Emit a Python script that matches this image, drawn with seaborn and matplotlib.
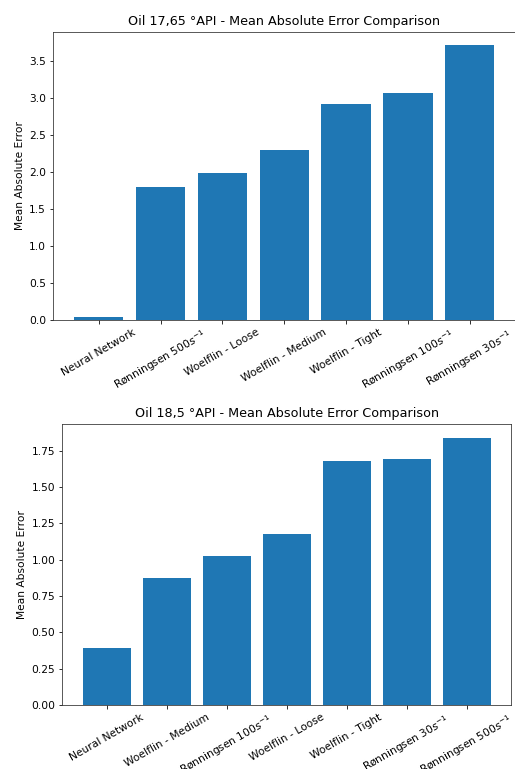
import matplotlib
matplotlib.use("Agg")
import matplotlib.pyplot as plt
import seaborn as sns
import pandas as pd

# Oil 17,65 °API
models_a = ["Neural Network", r"Rønningsen $500s^{-1}$", "Woelflin - Loose",
            "Woelflin - Medium", "Woelflin - Tight", r"Rønningsen $100s^{-1}$",
            r"Rønningsen $30s^{-1}$"]
mae_a = [0.04, 1.80, 1.99, 2.30, 2.93, 3.07, 3.72]

# Oil 18,5 °API
models_b = ["Neural Network", "Woelflin - Medium", r"Rønningsen $100s^{-1}$",
            "Woelflin - Loose", "Woelflin - Tight", r"Rønningsen $30s^{-1}$",
            r"Rønningsen $500s^{-1}$"]
mae_b = [0.39, 0.875, 1.025, 1.18, 1.68, 1.69, 1.84]

titles = ["Oil 17,65 °API - Mean Absolute Error Comparison",
          "Oil 18,5 °API - Mean Absolute Error Comparison"]

W, H = 515, 769
fig = plt.figure(figsize=(W / 72, H / 72), dpi=72)

# axes boxes in pixels: left, top, right, bottom
boxes = [(53, 31.5, 515.5, 320), (62.3, 424.3, 511, 705)]

for box, models, mae, title in zip(boxes, [models_a, models_b], [mae_a, mae_b], titles):
    l, t, r, b = box
    ax = fig.add_axes([l / W, 1 - b / H, (r - l) / W, (b - t) / H])
    df = pd.DataFrame({"Model": models, "MAE": mae})
    sns.barplot(data=df, x="Model", y="MAE", ax=ax, color="#1f77b4",
                saturation=1, width=0.8, errorbar=None)
    ax.set_title(title, fontsize=12.8, pad=7)
    ax.set_xlabel("")
    ax.set_ylabel("Mean Absolute Error", fontsize=10.6)
    ax.set_xlim(-0.74, len(models) - 0.26)
    ax.set_ylim(0, max(mae) * 1.05)
    ax.tick_params(axis="x", rotation=30, labelsize=10.6)
    ax.tick_params(axis="y", labelsize=10.6)
    for sp in ax.spines.values():
        sp.set_visible(True)
        sp.set_color("#333333")

fig.savefig("out.png", dpi=72)
